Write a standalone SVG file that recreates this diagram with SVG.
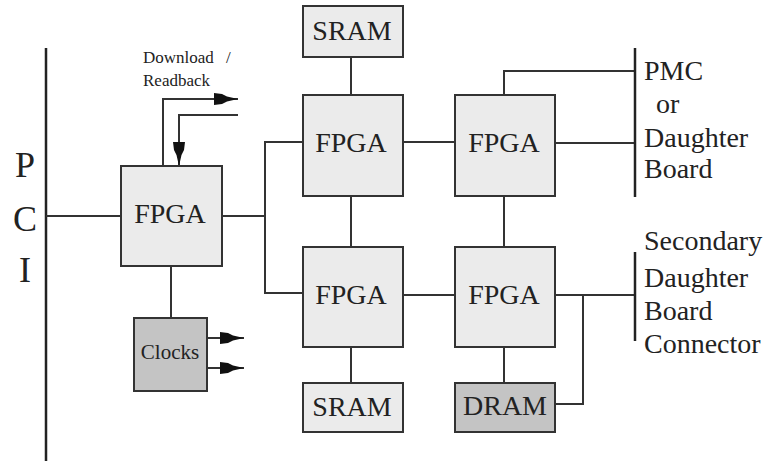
<svg xmlns="http://www.w3.org/2000/svg" width="767" height="463" viewBox="0 0 767 463">
  <style>
    .box { fill: #ebebeb; stroke: #333; stroke-width: 2; }
    .dark { fill: #c4c4c4; stroke: #333; stroke-width: 2; }
    .wire { fill: none; stroke: #333; stroke-width: 2; }
    .bus { fill: none; stroke: #222; stroke-width: 2.5; }
    text { font-family: 'Liberation Serif', 'DejaVu Serif', serif; fill: #222; }
    .lbl { font-size: 28px; text-anchor: middle; }
    .side { font-size: 28px; }
    .pci { font-size: 36px; text-anchor: middle; }
    .small { font-size: 17px; }
  </style>
  <defs>
    <marker id="arrow" viewBox="0 -7 26 14" refX="24" refY="0" markerWidth="26" markerHeight="14" markerUnits="userSpaceOnUse" orient="auto">
      <path d="M0,-6 L8,-5 L13,-2.5 L24,0 L13,2.5 L8,5 L0,6 Z" fill="#111"/>
    </marker>
  </defs>

  <!-- PCI bus -->
  <g id="pci">
    <line class="bus" x1="46" y1="48" x2="46" y2="461"/>
    <text class="pci" x="25" y="177">P</text>
    <text class="pci" x="25" y="231">C</text>
    <text class="pci" x="25" y="282">I</text>
  </g>

  <!-- connectors -->
  <g id="connectors">
    <path class="wire" d="M46,216 H121"/>
    <path class="wire" d="M222,216 H265"/>
    <path class="wire" d="M304,142 H265 V293 H304"/>
    <path class="wire" d="M402,142 H455"/>
    <path class="wire" d="M402,295 H455"/>
    <path class="wire" d="M351,57 V95"/>
    <path class="wire" d="M351,196 V247"/>
    <path class="wire" d="M504,196 V247"/>
    <path class="wire" d="M351,347 V383"/>
    <path class="wire" d="M504,347 V383"/>
    <path class="wire" d="M171,266 V318"/>
    <path class="wire" d="M504,95 V71 H635"/>
    <path class="wire" d="M554,143 H635"/>
    <path class="wire" d="M554,295 H635"/>
    <path class="wire" d="M583,295 V404 H555"/>
    <path class="wire" d="M163,166 V99 H238" marker-end="url(#arrow)"/>
    <path class="wire" d="M238,115 H179 V166" marker-end="url(#arrow)"/>
    <path class="wire" d="M207,338 H244" marker-end="url(#arrow)"/>
    <path class="wire" d="M207,368 H244" marker-end="url(#arrow)"/>
  </g>

  <!-- download / readback label -->
  <g id="download-label">
    <text class="small" x="143" y="63">Download</text>
    <text class="small" x="226" y="63">/</text>
    <text class="small" x="143" y="86">Readback</text>
  </g>

  <g id="fpga-host">
    <rect class="box" x="121" y="166" width="101" height="100"/>
    <text class="lbl" x="170" y="223">FPGA</text>
  </g>

  <g id="clocks">
    <rect class="dark" x="134" y="318" width="73" height="73"/>
    <text x="170" y="359" font-size="21" text-anchor="middle">Clocks</text>
  </g>

  <g id="sram-top">
    <rect class="box" x="303" y="6" width="100" height="51"/>
    <text class="lbl" x="352" y="40">SRAM</text>
  </g>

  <g id="fpga-top-mid">
    <rect class="box" x="303" y="95" width="100" height="101"/>
    <text class="lbl" x="351" y="152">FPGA</text>
  </g>

  <g id="fpga-top-right">
    <rect class="box" x="455" y="95" width="100" height="101"/>
    <text class="lbl" x="504" y="152">FPGA</text>
  </g>

  <g id="fpga-bot-mid">
    <rect class="box" x="303" y="247" width="100" height="100"/>
    <text class="lbl" x="351" y="304">FPGA</text>
  </g>

  <g id="fpga-bot-right">
    <rect class="box" x="455" y="247" width="100" height="100"/>
    <text class="lbl" x="504" y="304">FPGA</text>
  </g>

  <g id="sram-bot">
    <rect class="box" x="303" y="383" width="100" height="49"/>
    <text class="lbl" x="352" y="416">SRAM</text>
  </g>

  <g id="dram">
    <rect class="dark" x="455" y="383" width="100" height="49"/>
    <text class="lbl" x="505" y="415">DRAM</text>
  </g>

  <g id="pmc-connector">
    <line class="bus" x1="635" y1="48" x2="635" y2="197"/>
    <text class="side" x="644" y="80">PMC</text>
    <text class="side" x="656" y="113">or</text>
    <text class="side" x="644" y="147">Daughter</text>
    <text class="side" x="644" y="178">Board</text>
  </g>

  <g id="secondary-connector">
    <line class="bus" x1="635" y1="252" x2="635" y2="341"/>
    <text class="side" x="644" y="250">Secondary</text>
    <text class="side" x="644" y="287">Daughter</text>
    <text class="side" x="644" y="320">Board</text>
    <text class="side" x="644" y="353">Connector</text>
  </g>
</svg>
